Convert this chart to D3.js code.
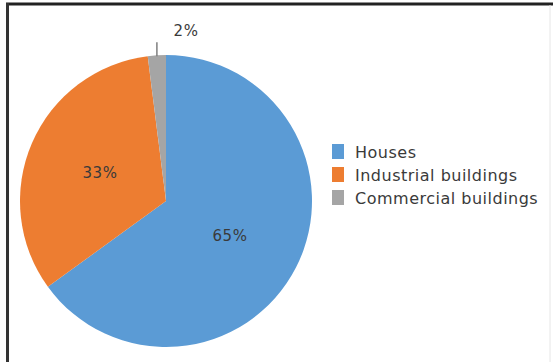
<!DOCTYPE html>
<html><head><meta charset="utf-8">
<script src="https://cdn.jsdelivr.net/npm/d3@7"></script>
<style>body{margin:0;background:#fff}svg{display:block}</style>
</head><body>
<svg id="c" width="553" height="362"></svg>
<script>
const categories = ["Houses", "Industrial buildings", "Commercial buildings"];
const values = [65, 33, 2];
const labels = ["65%", "33%", "2%"];
const colors = ["#5B9BD5", "#ED7D31", "#A5A5A5"];

const svg = d3.select("#c");
const W = 553, H = 362;
svg.append("rect").attr("width", W).attr("height", H).attr("fill", "#fff");
// frame
svg.append("line").attr("x1", 6).attr("x2", 553).attr("y1", 4).attr("y2", 4).attr("stroke", "#222").attr("stroke-width", 3);
svg.append("line").attr("x1", 7.5).attr("x2", 7.5).attr("y1", 3).attr("y2", 362).attr("stroke", "#333").attr("stroke-width", 3);
svg.append("line").attr("x1", 550).attr("x2", 550).attr("y1", 5).attr("y2", 362).attr("stroke", "#e6e6e6").attr("stroke-width", 1);

const cx = 166, cy = 201, r = 146;
const pie = d3.pie().sort(null).value(d => d)(values);
const arc = d3.arc().innerRadius(0).outerRadius(r);
const g = svg.append("g").attr("transform", `translate(${cx},${cy})`);
g.selectAll("path").data(pie).join("path")
  .attr("d", arc).attr("fill", (d, i) => colors[i]);

const font = "'DejaVu Sans', sans-serif";
// labels
const labelPos = [[230 - cx, 236 - cy], [100 - cx, 173 - cy]];
labelPos.forEach((p, i) => {
  g.append("text").attr("x", p[0]).attr("y", p[1]).attr("text-anchor", "middle")
    .attr("dominant-baseline", "central").attr("font-family", font).attr("font-size", 15)
    .attr("letter-spacing", 0.5).attr("fill", "#3a3a3a").text(labels[i]);
});
// small slice: leader line and outside label
const mid = (pie[2].startAngle + pie[2].endAngle) / 2;
const p0 = [Math.sin(mid) * (r - 1), -Math.cos(mid) * (r - 1)];
g.append("line").attr("x1", p0[0]).attr("y1", p0[1]).attr("x2", p0[0]).attr("y2", p0[1] - 14)
  .attr("stroke", "#7f7f7f").attr("stroke-width", 1.5);
g.append("text").attr("x", 186 - cx).attr("y", 31 - cy).attr("text-anchor", "middle")
  .attr("dominant-baseline", "central").attr("font-family", font).attr("font-size", 15)
  .attr("letter-spacing", 0.5).attr("fill", "#3a3a3a").text(labels[2]);

// legend
const lg = svg.append("g").attr("transform", "translate(332,144)");
categories.forEach((c, i) => {
  const y = i * 23;
  lg.append("rect").attr("x", 0).attr("y", y).attr("width", 12).attr("height", 15).attr("fill", colors[i]);
  lg.append("text").attr("x", 23).attr("y", y + 8).attr("dominant-baseline", "central")
    .attr("font-family", font).attr("font-size", 16).attr("letter-spacing", 0.5)
    .attr("fill", "#3a3a3a").text(c);
});
</script>
</body></html>
